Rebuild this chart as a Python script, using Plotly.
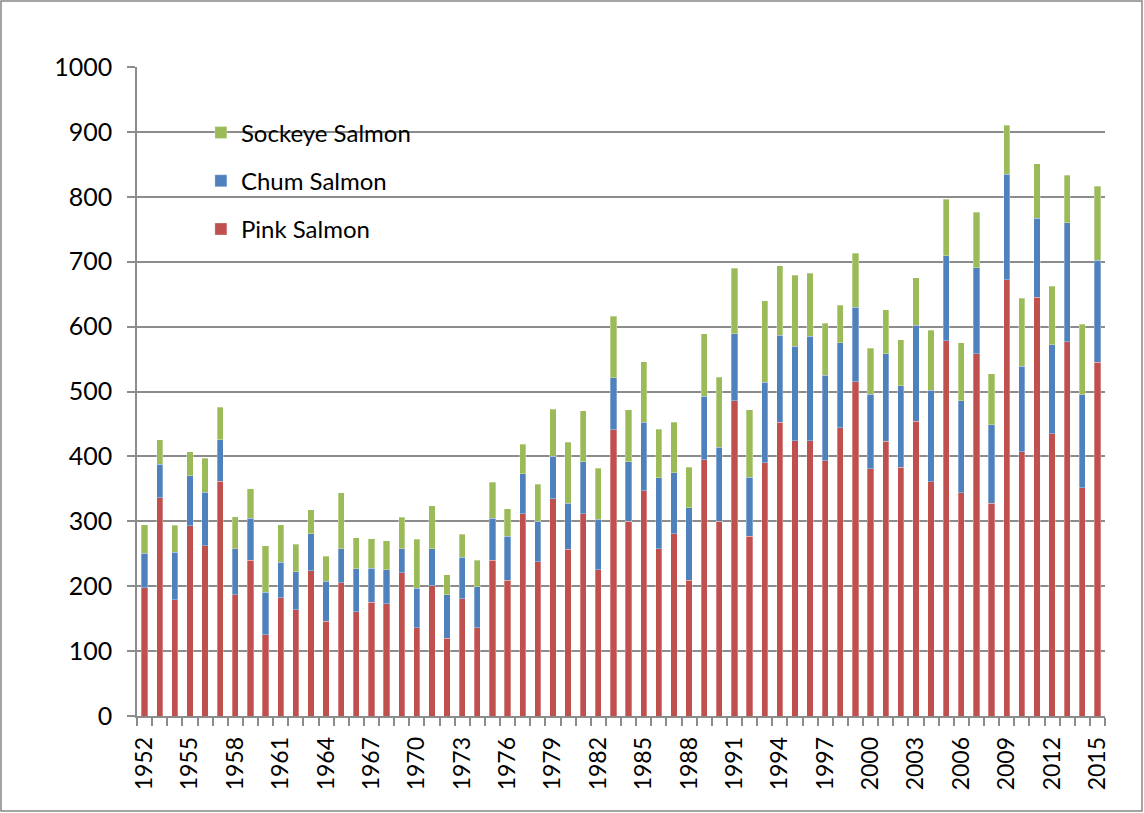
import plotly.graph_objects as go

years = list(range(1952, 2016))

pink = [198, 336, 179, 293, 262, 362, 187, 240, 125, 182, 164, 224, 146, 205, 161, 175,
        173, 221, 136, 201, 120, 181, 136, 240, 209, 312, 238, 335, 257, 312, 225, 441,
        300, 347, 258, 281, 209, 395, 300, 486, 277, 390, 453, 424, 424, 393, 444, 515,
        381, 423, 383, 454, 361, 578, 344, 558, 328, 672, 407, 645, 435, 577, 352, 545]

chum_top = [251, 388, 252, 370, 345, 426, 258, 305, 191, 237, 222, 281, 208, 258, 227, 228,
            225, 258, 197, 258, 187, 245, 199, 305, 277, 373, 300, 400, 328, 392, 303, 521,
            392, 453, 367, 375, 321, 493, 414, 589, 368, 514, 587, 570, 585, 525, 575, 630,
            496, 558, 509, 602, 502, 709, 486, 691, 449, 835, 539, 767, 572, 760, 495, 702]

total = [295, 426, 294, 407, 397, 476, 307, 350, 262, 295, 265, 318, 246, 344, 275, 273,
         270, 306, 272, 324, 218, 280, 240, 360, 319, 419, 357, 473, 422, 470, 382, 616,
         472, 546, 442, 453, 383, 589, 522, 690, 472, 640, 694, 679, 682, 605, 633, 713,
         567, 626, 580, 675, 594, 796, 575, 776, 527, 910, 644, 851, 662, 833, 604, 816]

chum = [c - p for c, p in zip(chum_top, pink)]
sockeye = [t - c for t, c in zip(total, chum_top)]

tick_years = list(range(1952, 2016, 3))
y_ticks = list(range(0, 1001, 100))

FONT = "Lato, 'Open Sans', sans-serif"
GRID = "#8c8c8c"

fig = go.Figure()
series = [("Pink Salmon", pink, "#C0504D", 3),
          ("Chum Salmon", chum, "#4F81BD", 2),
          ("Sockeye Salmon", sockeye, "#9BBB59", 1)]
for i, (name, vals, col, rank) in enumerate(series):
    fig.add_trace(go.Bar(
        x=years, y=vals, name=name, legendgroup=str(i), legendrank=rank,
        marker=dict(color=col, line=dict(color="rgba(255,255,255,0.5)", width=0.6)),
    ))

fig.update_layout(
    barmode="stack",
    bargap=0.58,
    width=1144, height=813,
    margin=dict(l=137, r=39, t=67, b=97, pad=0),
    paper_bgcolor="white", plot_bgcolor="white",
    font=dict(family=FONT, color="black"),
    showlegend=True,
    legend=dict(
        x=0.066, y=0.933, xanchor="left", yanchor="top",
        traceorder="grouped", tracegroupgap=14,
        font=dict(size=24, family=FONT, color="black"),
        bgcolor="rgba(0,0,0,0)", itemwidth=30,
    ),
    xaxis=dict(
        range=[1951.5, 2015.5],
        tickvals=tick_years, ticktext=[str(y) for y in tick_years],
        tickangle=-90, ticks="", tickfont=dict(size=23, family=FONT),
        showgrid=False, showline=True, linecolor=GRID, linewidth=1.5,
        zeroline=False, ticklabelstandoff=10,
        minor=dict(tick0=1951.5, dtick=1, ticks="outside", ticklen=8,
                   tickcolor=GRID, tickwidth=1.5, showgrid=False),
    ),
    yaxis=dict(
        range=[0, 1000], tickvals=y_ticks,
        ticks="outside", ticklen=8, tickcolor=GRID, tickwidth=1.5,
        tickfont=dict(size=25, family=FONT),
        showgrid=True, gridcolor=GRID, gridwidth=1.5,
        showline=True, linecolor=GRID, linewidth=1.5, zeroline=False,
        ticklabelstandoff=10,
    ),
    shapes=[dict(type="rect", xref="paper", yref="paper",
                 x0=-0.1405, x1=1.0382, y0=-0.1464, y1=1.1017,
                 line=dict(color="#868686", width=1.5), layer="below")],
)

fig.write_html("out.html", config={"displayModeBar": False},
               post_script="document.body.style.margin='0';document.body.style.overflow='hidden';")
